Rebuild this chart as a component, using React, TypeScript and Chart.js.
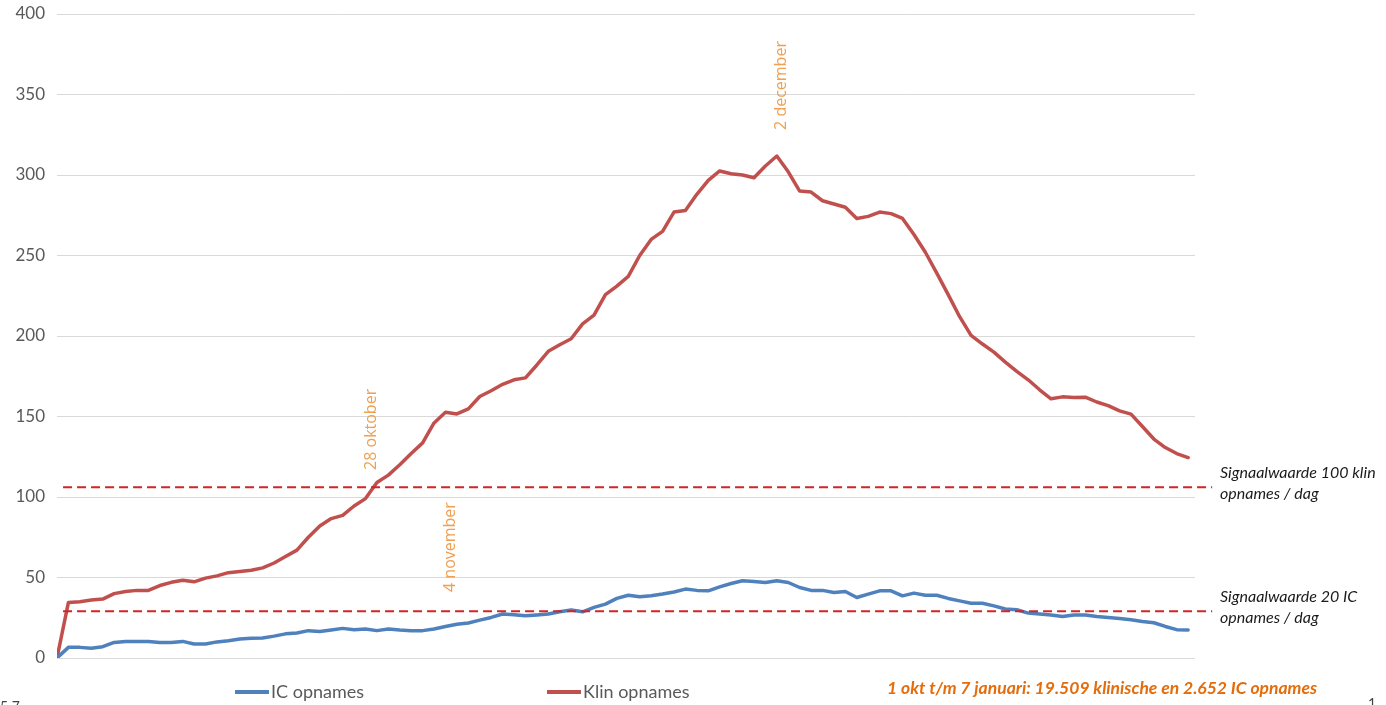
import React, { useEffect, useRef } from "react";
import { Chart, registerables } from "chart.js";

Chart.register(...registerables);

// Day index 0 = start (0), 1 = 1 okt ... 99 = 7 januari
const klinOpnames = [
  0, 34.5, 35, 36, 36.6, 40, 41.3, 42, 42, 45,
  47, 48.3, 47.3, 49.6, 51, 53, 53.7, 54.5, 56, 59,
  63, 67, 75, 82, 86.6, 88.6, 94.4, 99, 109, 113.6,
  120, 127, 133.6, 146, 152.7, 151.6, 154.7, 162.4, 166, 170,
  172.8, 174, 182, 190.5, 194.6, 198.3, 207.5, 213, 225.7, 231,
  237, 250, 260, 265, 277, 278, 288, 296.7, 302.5, 300.8,
  300, 298.3, 305.6, 311.8, 302, 290, 289.4, 284, 282, 280,
  273, 274.3, 277, 276, 273, 263, 252, 239, 225.7, 212,
  200.4, 195, 190, 183.8, 178, 172.8, 166.6, 161, 162.2, 161.8,
  162, 159, 156.8, 153.5, 151.5, 143.8, 136, 130.7, 127, 124.5,
];

const icOpnames = [
  0, 6.6, 6.6, 6, 7, 9.7, 10.3, 10.3, 10.3, 9.7,
  9.7, 10.3, 8.7, 8.7, 10, 10.7, 11.8, 12.2, 12.4, 13.6,
  15, 15.5, 17, 16.5, 17.4, 18.4, 17.6, 18, 17, 18,
  17.4, 17, 17, 18, 19.6, 21, 21.7, 23.5, 25.2, 27.3,
  26.9, 26.2, 26.7, 27.3, 28.7, 29.8, 28.7, 31.4, 33.5, 37,
  39, 38, 38.6, 39.7, 41, 42.8, 42, 41.7, 44.2, 46.3,
  48, 47.5, 46.9, 48, 46.9, 43.8, 42, 42, 40.7, 41.3,
  37.6, 39.7, 41.7, 41.7, 38.6, 40.3, 39, 39, 37, 35.5,
  34, 34, 32.4, 30.4, 30, 27.9, 27.3, 26.7, 25.8, 26.7,
  26.7, 25.8, 25.2, 24.6, 23.8, 22.7, 21.9, 19.6, 17.6, 17.4,
];

const signaalKlin = 106;
const signaalIC = 29;
const signaalStart = 0.53;
const signaalEnd = 101.1;

const yTicks = [0, 50, 100, 150, 200, 250, 300, 350, 400];

// date annotations: [label, x index, y value where text starts (bottom)]
const dateLabels: [string, number, number][] = [
  ["28 oktober", 27.5, 116.8],
  ["4 november", 34.4, 41],
  ["2 december", 63.4, 328],
];

const signaalTexts: [string, string, number][] = [
  ["Signaalwaarde 100 klin", "opnames / dag", 111.5],
  ["Signaalwaarde 20 IC", "opnames / dag", 35],
];

const legendItems: [string, string][] = [
  ["IC opnames", "#4F81BD"],
  ["Klin opnames", "#C0504D"],
];

const footnote = "1 okt t/m 7 januari: 19.509 klinische en 2.652 IC opnames";

const annotationPlugin = {
  id: "annotations",
  afterDraw(chart: any) {
    const ctx = chart.ctx as CanvasRenderingContext2D;
    const xs = chart.scales.x;
    const ys = chart.scales.y;
    ctx.save();
    // rotated date labels
    ctx.fillStyle = "#EFA052";
    ctx.font = "16px 'Open Sans'";
    ctx.textBaseline = "middle";
    ctx.textAlign = "left";
    for (const [label, xi, yv] of dateLabels) {
      ctx.save();
      ctx.translate(xs.getPixelForValue(xi), ys.getPixelForValue(yv));
      ctx.rotate(-Math.PI / 2);
      ctx.fillText(label, 0, 0);
      ctx.restore();
    }
    // signaal texts
    ctx.fillStyle = "#1a1a1a";
    ctx.font = "italic 16px Lato";
    ctx.textBaseline = "alphabetic";
    for (const [l1, l2, yv] of signaalTexts) {
      const y = ys.getPixelForValue(yv);
      ctx.fillText(l1, 1220, y);
      ctx.fillText(l2, 1220, y + 21);
    }
    // legend
    ctx.font = "18px Lato";
    ctx.textBaseline = "middle";
    const legendX = [235, 547];
    legendItems.forEach(([label, color], i) => {
      const x0 = legendX[i];
      ctx.strokeStyle = color;
      ctx.lineWidth = 4;
      ctx.beginPath();
      ctx.moveTo(x0, 692);
      ctx.lineTo(x0 + 34, 692);
      ctx.stroke();
      ctx.fillStyle = "#595959";
      ctx.fillText(label, x0 + 36, 692);
    });
    // footnote
    ctx.fillStyle = "#E46C0A";
    ctx.font = "italic bold 17.5px Lato";
    ctx.fillText(footnote, 887, 688);
    // page remnants
    ctx.fillStyle = "#444";
    ctx.font = "14px Lato";
    ctx.fillText("1", 1368, 703);
    ctx.fillText("5 7", 0, 706);
    ctx.restore();
  },
};

export default function App() {
  const ref = useRef<HTMLCanvasElement | null>(null);
  useEffect(() => {
    if (!ref.current) return;
    const idx = klinOpnames.map((_, i) => i);
    const chart = new Chart(ref.current, {
      type: "line",
      data: {
        datasets: [
          {
            label: "Signaal klin",
            data: [
              { x: signaalStart, y: signaalKlin },
              { x: signaalEnd, y: signaalKlin },
            ],
            borderColor: "#D42424",
            borderWidth: 2,
            borderDash: [9, 5],
            pointRadius: 0,
            clip: false as any,
          },
          {
            label: "Signaal IC",
            data: [
              { x: signaalStart, y: signaalIC },
              { x: signaalEnd, y: signaalIC },
            ],
            borderColor: "#D42424",
            borderWidth: 2,
            borderDash: [9, 5],
            pointRadius: 0,
            clip: false as any,
          },
          {
            label: "IC opnames",
            data: idx.map((i) => ({ x: i, y: icOpnames[i] })),
            borderColor: "#4F81BD",
            borderWidth: 3.5,
            pointRadius: 0,
            tension: 0,
            borderJoinStyle: "round",
            borderCapStyle: "round",
          },
          {
            label: "Klin opnames",
            data: idx.map((i) => ({ x: i, y: klinOpnames[i] })),
            borderColor: "#C0504D",
            borderWidth: 3.5,
            pointRadius: 0,
            tension: 0,
            borderJoinStyle: "round",
            borderCapStyle: "round",
          },
        ],
      },
      options: {
        animation: false,
        responsive: false,
        events: [],
        layout: { padding: { top: 14, right: 191, bottom: 47, left: 0 } },
        plugins: { legend: { display: false }, tooltip: { enabled: false } },
        scales: {
          x: {
            type: "linear",
            min: 0,
            max: 99.6,
            display: false,
          },
          y: {
            min: 0,
            max: 400,
            afterBuildTicks: (s: any) => {
              s.ticks = yTicks.map((v) => ({ value: v }));
            },
            afterFit: (s: any) => {
              s.width = 57;
              s.paddingTop = 0;
              s.paddingBottom = 0;
            },
            border: { display: false },
            grid: { color: "#D9D9D9", lineWidth: 1, drawTicks: false },
            ticks: {
              color: "#595959",
              font: { family: "Lato", size: 17 },
              padding: 12,
            },
          },
        },
      },
      plugins: [annotationPlugin],
    });
    return () => chart.destroy();
  }, []);
  return (
    <div style={{ position: "fixed", left: 0, top: 0, width: 1386, height: 705, background: "#fff" }}>
      <canvas ref={ref} width={1386} height={705} style={{ width: 1386, height: 705 }} />
    </div>
  );
}
